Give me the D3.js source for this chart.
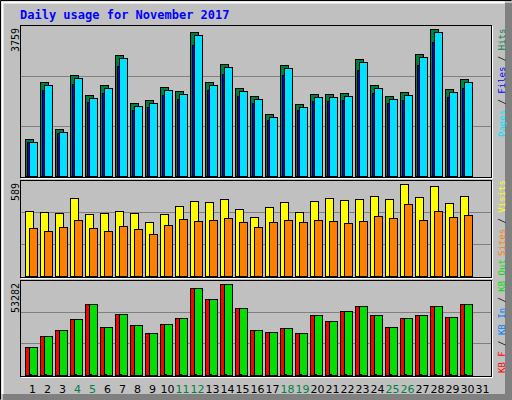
<!DOCTYPE html>
<html><head><meta charset="utf-8">
<script src="https://cdn.jsdelivr.net/npm/d3@7/dist/d3.min.js"></script>
<style>body{margin:0;background:#fff}svg{display:block}</style></head>
<body><svg id="c" width="512" height="400"></svg>
<script>
const title = "Daily usage for November 2017";
const days = d3.range(1, 32).map(String);
const weekend = ["4","5","11","12","18","19","25","26"];
const hits  = [927,2356,1178,2531,2030,2280,3032,1829,1905,2230,2130,3609,2356,2807,2205,2005,1554,2782,1804,2055,2055,2080,2932,2280,2005,2105,3057,3684,2180,2431];
const files = [852,2281,1103,2456,1955,2205,2957,1754,1830,2155,2055,3534,2281,2732,2130,1930,1479,2707,1729,1980,1980,2005,2857,2205,1930,2030,2982,3609,2105,2356];
const pages = [844,2144,1072,2303,1847,2075,2759,1664,1734,2029,1938,3284,2144,2554,2007,1825,1414,2532,1642,1870,1870,1893,2668,2075,1825,1916,2782,3352,1984,2212];
const visits = [397,391,385,477,379,385,397,385,330,379,428,459,452,471,410,361,422,452,391,459,477,465,471,489,471,562,483,550,446,489];
const sites  = [293,275,300,342,293,275,306,287,257,312,349,336,342,355,330,300,330,342,330,342,336,324,336,367,355,440,342,397,361,373];
const kbF  = [15649,21797,25150,31298,39868,26827,34279,27945,23474,28504,31857,48624,42476,50860,37446,25150,24033,26268,23474,33533,30180,35770,38564,33533,26827,31857,33533,38564,32416,39682];
const kbIn = kbF.slice();
const kbOut = [300,500,200,600,300,500,300,200,200,500,600,300,400,400,500,200,200,600,300,300,300,300,600,500,300,300,600,600,600,600];
const maxLabels = ["3759","589","53282"];

const svg = d3.select("#c");
const mono = "DejaVu Sans Mono, monospace";
svg.append("rect").attr("x",0).attr("y",0).attr("width",512).attr("height",400).attr("fill","#c0c0c0");
svg.append("rect").attr("x",505).attr("y",3).attr("width",7).attr("height",397).attr("fill","#808080");
svg.append("rect").attr("x",3).attr("y",394).attr("width",509).attr("height",6).attr("fill","#808080");
svg.append("path").attr("d","M0.5,399.5V0.5H511.5").attr("stroke","#000").attr("fill","none");
svg.append("path").attr("d","M2.5,394V2.5H505").attr("stroke","#fff").attr("fill","none").attr("stroke-width",2);

svg.append("text").attr("x",20).attr("y",19).attr("fill","#0000ff").attr("font-family",mono)
  .attr("font-weight","bold").attr("font-size",12).text(title);

const x = d3.scaleBand().domain(days).range([22, 487]).paddingInner(0);
const bx = d => x(d) + 3;

const panels = [
  {top:25, bot:177, base:176, max:3759, series:[
    {v:hits, c:"#008040", dx:0, w:8},{v:pages, c:"#0000ff", dx:2, w:8},{v:files, c:"#00e0ff", dx:4, w:8}]},
  {top:180, bot:277, base:276, max:589, series:[
    {v:visits, c:"#ffff00", dx:0, w:8},{v:sites, c:"#ff8000", dx:4, w:8}]},
  {top:280, bot:376, base:375, max:53282, series:[
    {v:kbF, c:"#ff0000", dx:0, w:8},{v:kbIn, c:"#00e000", dx:4, w:8},{v:kbOut, c:"#0080ff", dx:4, w:2}]}
];
panels.forEach((p,i) => {
  const rangeTop = p.base - (p.base - p.top) ; 
  const y = d3.scaleLinear().domain([0,p.max]).range([p.base, p.top + (i==0?1:0)]);
  svg.append("rect").attr("x",20.5).attr("y",p.top+0.5).attr("width",471).attr("height",p.bot-p.top)
    .attr("fill","#c0c0c0").attr("stroke","#000");
  svg.append("path").attr("d",`M21,${p.bot+1.5}H492.5V${p.top+1}`).attr("stroke","#fff").attr("fill","none");
  [1/3,2/3].forEach(f => svg.append("line").attr("x1",21).attr("x2",491)
    .attr("y1",Math.round(y(p.max*f))+0.5).attr("y2",Math.round(y(p.max*f))+0.5).attr("stroke","#808080"));
  p.series.forEach(s => {
    svg.append("g").selectAll("rect").data(s.v).join("rect")
      .attr("x",(d,j)=>bx(days[j])+s.dx+0.5).attr("y",d=>Math.round(y(d))+0.5)
      .attr("width",s.w).attr("height",d=>p.base-Math.round(y(d)))
      .attr("fill",s.c).attr("stroke","#000");
  });
  svg.append("text").attr("transform",`translate(19,${p.top+3}) rotate(-90)`).attr("text-anchor","end")
    .attr("font-family",mono).attr("font-size",10).attr("fill","#000").text(maxLabels[i]);
});

svg.append("g").selectAll("text").data(days).join("text")
  .attr("x",d=>x(d)+x.bandwidth()/2+3).attr("y",393).attr("text-anchor","middle")
  .attr("font-family","DejaVu Sans, sans-serif").attr("font-size",11)
  .attr("fill",d=>weekend.includes(d)?"#008040":"#000").text(d=>d);

function legend(y0, parts){
  const t = svg.append("text").attr("transform",`translate(505,${y0}) rotate(-90)`)
    .attr("font-family",mono).attr("font-size",9);
  parts.forEach(([s,c]) => t.append("tspan").attr("fill",c).text(s));
}
legend(137, [["Pages","#00e0ff"],[" / ","#000"],["Files","#0000ff"],[" / ","#000"],["Hits","#008040"]]);
legend(256, [["Sites","#ff8000"],[" / ","#000"],["Visits","#ffff00"]]);
legend(373, [["KB F","#ff0000"],[" / ","#000"],["KB In","#0080ff"],[" / ","#000"],["KB Out","#00e000"]]);
</script></body></html>
